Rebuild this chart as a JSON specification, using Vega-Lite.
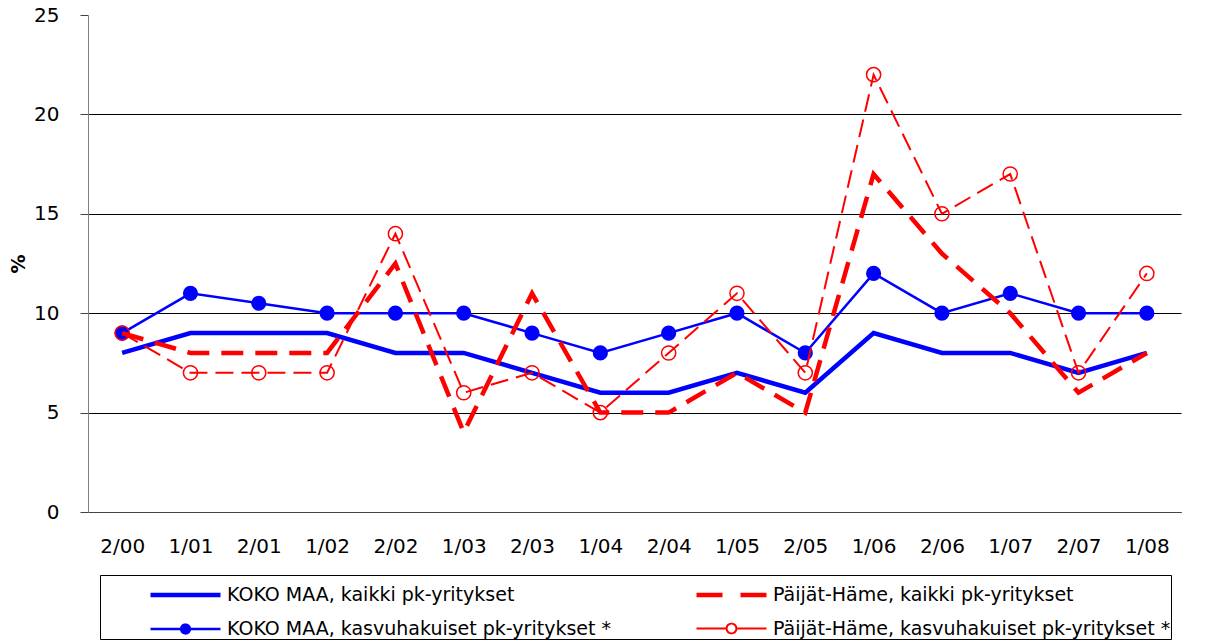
{
  "$schema": "https://vega.github.io/schema/vega-lite/v6.json",
  "width": 1093,
  "height": 497,
  "autosize": {"type": "none"},
  "padding": {"left": 88, "top": 15, "right": 29, "bottom": 131},
  "background": "#ffffff",
  "config": {
    "font": "DejaVu Sans",
    "view": {"stroke": null},
    "legend": {
      "title": null,
      "orient": "none",
      "legendX": 12,
      "legendY": 560,
      "columns": 2,
      "columnPadding": 35,
      "rowPadding": 5,
      "symbolSize": 1225,
      "symbolOffset": 48,
      "symbolOpacity": 1,
      "labelFontSize": 19,
      "labelFont": "DejaVu Sans",
      "labelOffset": 39,
      "labelLimit": 600,
      "labelColor": "#000000",
      "strokeColor": "#000000",
      "fillColor": "#ffffff",
      "padding": 0
    }
  },
  "data": {
    "values": [
      {"period": "2/00", "series": "KOKO MAA, kaikki pk-yritykset", "value": 8},
      {"period": "1/01", "series": "KOKO MAA, kaikki pk-yritykset", "value": 9},
      {"period": "2/01", "series": "KOKO MAA, kaikki pk-yritykset", "value": 9},
      {"period": "1/02", "series": "KOKO MAA, kaikki pk-yritykset", "value": 9},
      {"period": "2/02", "series": "KOKO MAA, kaikki pk-yritykset", "value": 8},
      {"period": "1/03", "series": "KOKO MAA, kaikki pk-yritykset", "value": 8},
      {"period": "2/03", "series": "KOKO MAA, kaikki pk-yritykset", "value": 7},
      {"period": "1/04", "series": "KOKO MAA, kaikki pk-yritykset", "value": 6},
      {"period": "2/04", "series": "KOKO MAA, kaikki pk-yritykset", "value": 6},
      {"period": "1/05", "series": "KOKO MAA, kaikki pk-yritykset", "value": 7},
      {"period": "2/05", "series": "KOKO MAA, kaikki pk-yritykset", "value": 6},
      {"period": "1/06", "series": "KOKO MAA, kaikki pk-yritykset", "value": 9},
      {"period": "2/06", "series": "KOKO MAA, kaikki pk-yritykset", "value": 8},
      {"period": "1/07", "series": "KOKO MAA, kaikki pk-yritykset", "value": 8},
      {"period": "2/07", "series": "KOKO MAA, kaikki pk-yritykset", "value": 7},
      {"period": "1/08", "series": "KOKO MAA, kaikki pk-yritykset", "value": 8},

      {"period": "2/00", "series": "KOKO MAA, kasvuhakuiset pk-yritykset *", "value": 9},
      {"period": "1/01", "series": "KOKO MAA, kasvuhakuiset pk-yritykset *", "value": 11},
      {"period": "2/01", "series": "KOKO MAA, kasvuhakuiset pk-yritykset *", "value": 10.5},
      {"period": "1/02", "series": "KOKO MAA, kasvuhakuiset pk-yritykset *", "value": 10},
      {"period": "2/02", "series": "KOKO MAA, kasvuhakuiset pk-yritykset *", "value": 10},
      {"period": "1/03", "series": "KOKO MAA, kasvuhakuiset pk-yritykset *", "value": 10},
      {"period": "2/03", "series": "KOKO MAA, kasvuhakuiset pk-yritykset *", "value": 9},
      {"period": "1/04", "series": "KOKO MAA, kasvuhakuiset pk-yritykset *", "value": 8},
      {"period": "2/04", "series": "KOKO MAA, kasvuhakuiset pk-yritykset *", "value": 9},
      {"period": "1/05", "series": "KOKO MAA, kasvuhakuiset pk-yritykset *", "value": 10},
      {"period": "2/05", "series": "KOKO MAA, kasvuhakuiset pk-yritykset *", "value": 8},
      {"period": "1/06", "series": "KOKO MAA, kasvuhakuiset pk-yritykset *", "value": 12},
      {"period": "2/06", "series": "KOKO MAA, kasvuhakuiset pk-yritykset *", "value": 10},
      {"period": "1/07", "series": "KOKO MAA, kasvuhakuiset pk-yritykset *", "value": 11},
      {"period": "2/07", "series": "KOKO MAA, kasvuhakuiset pk-yritykset *", "value": 10},
      {"period": "1/08", "series": "KOKO MAA, kasvuhakuiset pk-yritykset *", "value": 10},

      {"period": "2/00", "series": "Päijät-Häme, kaikki pk-yritykset", "value": 9},
      {"period": "1/01", "series": "Päijät-Häme, kaikki pk-yritykset", "value": 8},
      {"period": "2/01", "series": "Päijät-Häme, kaikki pk-yritykset", "value": 8},
      {"period": "1/02", "series": "Päijät-Häme, kaikki pk-yritykset", "value": 8},
      {"period": "2/02", "series": "Päijät-Häme, kaikki pk-yritykset", "value": 12.5},
      {"period": "1/03", "series": "Päijät-Häme, kaikki pk-yritykset", "value": 4},
      {"period": "2/03", "series": "Päijät-Häme, kaikki pk-yritykset", "value": 11},
      {"period": "1/04", "series": "Päijät-Häme, kaikki pk-yritykset", "value": 5},
      {"period": "2/04", "series": "Päijät-Häme, kaikki pk-yritykset", "value": 5},
      {"period": "1/05", "series": "Päijät-Häme, kaikki pk-yritykset", "value": 7},
      {"period": "2/05", "series": "Päijät-Häme, kaikki pk-yritykset", "value": 5},
      {"period": "1/06", "series": "Päijät-Häme, kaikki pk-yritykset", "value": 17},
      {"period": "2/06", "series": "Päijät-Häme, kaikki pk-yritykset", "value": 13},
      {"period": "1/07", "series": "Päijät-Häme, kaikki pk-yritykset", "value": 10},
      {"period": "2/07", "series": "Päijät-Häme, kaikki pk-yritykset", "value": 6},
      {"period": "1/08", "series": "Päijät-Häme, kaikki pk-yritykset", "value": 8},

      {"period": "2/00", "series": "Päijät-Häme, kasvuhakuiset pk-yritykset *", "value": 9},
      {"period": "1/01", "series": "Päijät-Häme, kasvuhakuiset pk-yritykset *", "value": 7},
      {"period": "2/01", "series": "Päijät-Häme, kasvuhakuiset pk-yritykset *", "value": 7},
      {"period": "1/02", "series": "Päijät-Häme, kasvuhakuiset pk-yritykset *", "value": 7},
      {"period": "2/02", "series": "Päijät-Häme, kasvuhakuiset pk-yritykset *", "value": 14},
      {"period": "1/03", "series": "Päijät-Häme, kasvuhakuiset pk-yritykset *", "value": 6},
      {"period": "2/03", "series": "Päijät-Häme, kasvuhakuiset pk-yritykset *", "value": 7},
      {"period": "1/04", "series": "Päijät-Häme, kasvuhakuiset pk-yritykset *", "value": 5},
      {"period": "2/04", "series": "Päijät-Häme, kasvuhakuiset pk-yritykset *", "value": 8},
      {"period": "1/05", "series": "Päijät-Häme, kasvuhakuiset pk-yritykset *", "value": 11},
      {"period": "2/05", "series": "Päijät-Häme, kasvuhakuiset pk-yritykset *", "value": 7},
      {"period": "1/06", "series": "Päijät-Häme, kasvuhakuiset pk-yritykset *", "value": 22},
      {"period": "2/06", "series": "Päijät-Häme, kasvuhakuiset pk-yritykset *", "value": 15},
      {"period": "1/07", "series": "Päijät-Häme, kasvuhakuiset pk-yritykset *", "value": 17},
      {"period": "2/07", "series": "Päijät-Häme, kasvuhakuiset pk-yritykset *", "value": 7},
      {"period": "1/08", "series": "Päijät-Häme, kasvuhakuiset pk-yritykset *", "value": 12}
    ]
  },
  "encoding": {
    "x": {
      "field": "period",
      "type": "ordinal",
      "sort": ["2/00", "1/01", "2/01", "1/02", "2/02", "1/03", "2/03", "1/04", "2/04", "1/05", "2/05", "1/06", "2/06", "1/07", "2/07", "1/08"],
      "scale": {"type": "point", "padding": 0.5},
      "axis": {
        "title": null,
        "labelAngle": 0,
        "ticks": false,
        "grid": false,
        "domainColor": "#444444",
        "labelFontSize": 20,
        "labelColor": "#000000",
        "labelPadding": 24
      }
    },
    "y": {
      "field": "value",
      "type": "quantitative",
      "scale": {"domain": [0, 25], "nice": false},
      "axis": {
        "values": [0, 5, 10, 15, 20, 25],
        "title": "%",
        "titleFontSize": 19,
        "titleFontWeight": "bold",
        "titleColor": "#000000",
        "titlePadding": 5,
        "grid": true,
        "gridColor": "#000000",
        "gridOpacity": {"condition": {"test": "datum.value >= 25", "value": 0}, "value": 1},
        "tickSize": 8,
        "tickColor": "#444444",
        "domainColor": "#808080",
        "labelFontSize": 20,
        "labelColor": "#000000",
        "labelPadding": 21
      }
    }
  },
  "layer": [
    {
      "transform": [{"filter": "false"}],
      "mark": {"type": "point", "filled": false, "opacity": 1},
      "encoding": {
        "color": {
          "field": "series", "type": "nominal",
          "scale": {
            "domain": ["KOKO MAA, kaikki pk-yritykset", "KOKO MAA, kasvuhakuiset pk-yritykset *", "Päijät-Häme, kaikki pk-yritykset", "Päijät-Häme, kasvuhakuiset pk-yritykset *"],
            "range": ["#0000ff", "#0000ff", "#ff0000", "#ff0000"]
          }
        },
        "shape": {
          "field": "series", "type": "nominal",
          "scale": {
            "domain": ["KOKO MAA, kaikki pk-yritykset", "KOKO MAA, kasvuhakuiset pk-yritykset *", "Päijät-Häme, kaikki pk-yritykset", "Päijät-Häme, kasvuhakuiset pk-yritykset *"],
            "range": [
              "M-1,0H3",
              "M-1,0H3M1.25,0A0.25,0.25 0 1,1 0.75,0A0.25,0.25 0 1,1 1.25,0M1.12,0A0.12,0.12 0 1,1 0.88,0A0.12,0.12 0 1,1 1.12,0",
              "M-1,0H3",
              "M-1,0H0.72M1.28,0H3M1.28,0A0.28,0.28 0 1,1 0.72,0A0.28,0.28 0 1,1 1.28,0"
            ]
          }
        },
        "strokeDash": {
          "field": "series", "type": "nominal",
          "scale": {
            "domain": ["KOKO MAA, kaikki pk-yritykset", "KOKO MAA, kasvuhakuiset pk-yritykset *", "Päijät-Häme, kaikki pk-yritykset", "Päijät-Häme, kasvuhakuiset pk-yritykset *"],
            "range": [[1, 0], [1, 0], [26, 18], [1, 0]]
          }
        },
        "strokeWidth": {
          "field": "series", "type": "nominal",
          "scale": {
            "type": "ordinal",
            "domain": ["KOKO MAA, kaikki pk-yritykset", "KOKO MAA, kasvuhakuiset pk-yritykset *", "Päijät-Häme, kaikki pk-yritykset", "Päijät-Häme, kasvuhakuiset pk-yritykset *"],
            "range": [4.5, 2.5, 4.5, 2]
          }
        }
      }
    },
    {
      "transform": [{"filter": "indexof(datum.series, 'KOKO MAA') == 0"}],
      "mark": {"type": "line", "strokeJoin": "miter"},
      "encoding": {
        "detail": {"field": "series", "type": "nominal"},
        "color": {"value": "#0000ff"},
        "strokeWidth": {
          "condition": {"test": "datum.series == 'KOKO MAA, kaikki pk-yritykset'", "value": 4.5},
          "value": 2.5
        }
      }
    },
    {
      "transform": [{"filter": "datum.series == 'KOKO MAA, kasvuhakuiset pk-yritykset *'"}],
      "mark": {"type": "point", "filled": true, "color": "#0000ff", "size": 230, "opacity": 1}
    },
    {
      "transform": [{"filter": "datum.series == 'Päijät-Häme, kaikki pk-yritykset'"}],
      "mark": {"type": "line", "strokeJoin": "miter", "color": "#ff0000", "strokeWidth": 4.5, "strokeDash": [22, 12]}
    },
    {
      "transform": [{"filter": "datum.series == 'Päijät-Häme, kasvuhakuiset pk-yritykset *'"}],
      "mark": {"type": "line", "strokeJoin": "miter", "color": "#ff0000", "strokeWidth": 2, "strokeDash": [18, 8]}
    },
    {
      "transform": [{"filter": "datum.series == 'Päijät-Häme, kasvuhakuiset pk-yritykset *'"}],
      "mark": {"type": "point", "filled": false, "color": "#ff0000", "size": 200, "strokeWidth": 1.5, "opacity": 1}
    }
  ]
}
